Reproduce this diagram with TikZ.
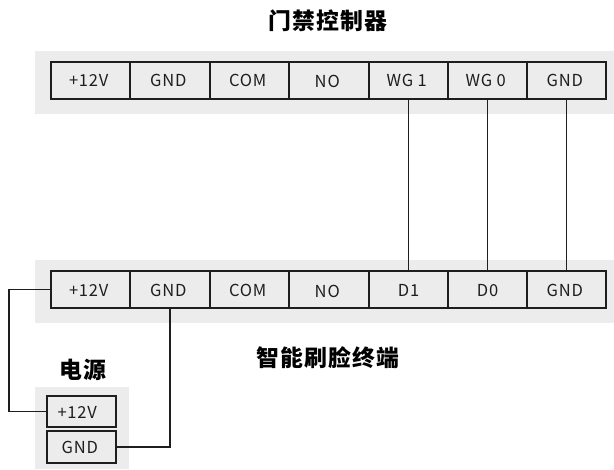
\documentclass[tikz,border=0pt]{standalone}
\usepackage{fontspec}
\setmainfont[LetterSpace=5]{Noto Sans CJK SC}
\usetikzlibrary{positioning}
\definecolor{bandgray}{RGB}{236,236,236}
\definecolor{wirecolor}{RGB}{30,30,30}
\tikzset{
  band/.style={fill=bandgray,draw=none,minimum height=1.26cm,minimum width=11.58cm,inner sep=0pt},
  plainpin/.style={draw=wirecolor,line width=0.9pt,minimum width=1.586cm,minimum height=0.74cm,inner sep=0pt,text height=0.26cm,text depth=0cm,font=\fontsize{9.4pt}{11pt}\selectfont,text=wirecolor},
  pin/.style={plainpin,execute at end node={\hspace{0.07cm}}},
  lowpin/.style={pin,text height=0.30cm},
  powerpin/.style={pin,minimum width=1.38cm,minimum height=0.63cm},
  title/.style={font=\fontsize{13pt}{15pt}\selectfont\bfseries,text=black,inner sep=0pt},
  wire/.style={draw=wirecolor,line width=0.9pt}
}
\begin{document}
\begin{tikzpicture}
    \useasboundingbox (0,0) rectangle (12.28,9.38);
    % grey bands
    \node[band] (topband) at (6.49,7.73) {};
    \node[band] (midband) at (6.49,3.55) {};
    \node[band,minimum width=1.88cm,minimum height=1.64cm] (powerband) at (1.64,0.82) {};
    % titles
    \node[title] (toptitle) at (6.56,8.96) {门禁控制器};
    \node[title] (midtitle) at (6.55,2.22) {智能刷脸终端};
    \node[title] (powertitle) at (1.65,1.98) {电源};
    % controller
    \node[pin] (ctlpower) at (1.81,7.77) {+12V};
    \node[pin] (ctlgnd) at (3.40,7.77) {GND};
    \node[pin] (ctlcom) at (4.99,7.77) {COM};
    \node[lowpin] (ctlno) at (6.58,7.77) {NO};
    \node[pin] (ctlone) at (8.17,7.77) {WG 1};
    \node[pin] (ctlzero) at (9.75,7.77) {WG 0};
    \node[pin] (ctlgndb) at (11.33,7.77) {GND};
    % terminal
    \node[pin] (termpower) at (1.81,3.59) {+12V};
    \node[pin] (termgnd) at (3.40,3.59) {GND};
    \node[pin] (termcom) at (4.99,3.59) {COM};
    \node[lowpin] (termno) at (6.58,3.59) {NO};
    \node[plainpin] (termone) at (8.17,3.59) {D1};
    \node[plainpin] (termzero) at (9.75,3.59) {D0};
    \node[pin] (termgndb) at (11.33,3.59) {GND};
    % power
    \node[powerpin,execute at end node={\hspace{0.1cm}}] (srcpower) at (1.63,1.15) {+12V};
    \node[powerpin] (srcgnd) at (1.63,0.44) {GND};
    % wires
    \coordinate (leftrail) at (0.18,2);
    \draw[wire] (ctlone) -- (termone);
    \draw[wire] (ctlzero) -- (termzero);
    \draw[wire] (ctlgndb) -- (termgndb);
    \draw[wire] (termpower.west) -- (leftrail |- termpower.west) -- (leftrail |- srcpower.west) -- (srcpower.west);
    \draw[wire] (termgnd.south) |- (srcgnd.east);
\end{tikzpicture}
\end{document}
